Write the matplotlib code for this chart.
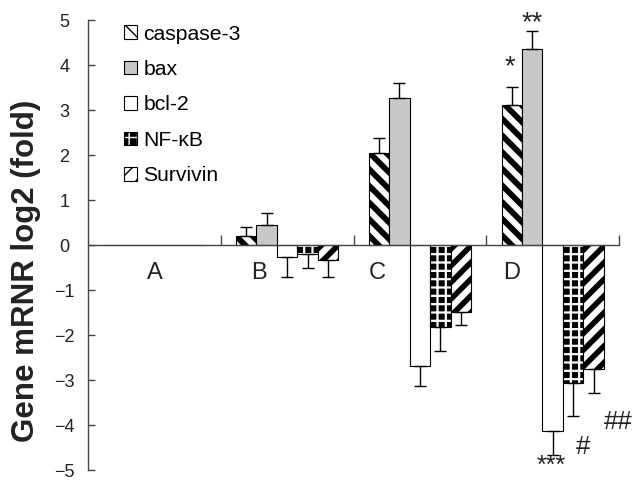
import numpy as np
import matplotlib
matplotlib.use("Agg")
import matplotlib.pyplot as plt

plt.rcParams["font.family"] = ["Liberation Sans", "DejaVu Sans"]

# log2 fold change of each gene in groups A-D, with one-sided SD
groups = ["A", "B", "C", "D"]
genes = ["caspase-3", "bax", "bcl-2", "NF-\u03baB", "Survivin"]
caspase3 = [0.0, 0.21, 2.05, 3.11]
caspase3_sd = [0.0, 0.20, 0.33, 0.41]
bax = [0.0, 0.44, 3.27, 4.35]
bax_sd = [0.0, 0.27, 0.34, 0.41]
bcl2 = [0.0, -0.26, -2.68, -4.13]
bcl2_sd = [0.0, 0.44, 0.45, 0.54]
nfkb = [0.0, -0.20, -1.83, -3.06]
nfkb_sd = [0.0, 0.30, 0.53, 0.74]
survivin = [0.0, -0.33, -1.49, -2.76]
survivin_sd = [0.0, 0.37, 0.29, 0.53]

# significance marks: (text, group, bar slot, y, vertical alignment)
marks = [("*", 3, -0.1, 3.95, "center"), ("**", 3, 1, 4.93, "center"),
         ("***", 3, 1.95, -5.07, "baseline"),
         ("#", 3, 3.5, -4.49, "center"), ("##", 3, 5.2, -3.93, "center")]

values = [caspase3, bax, bcl2, nfkb, survivin]
errors = [caspase3_sd, bax_sd, bcl2_sd, nfkb_sd, survivin_sd]

# face, hatch, hatch colour, hatch width
styles = [("white", "\\\\", "black", 4.2),
          ("#c8c8c8", "", "black", 1.0),
          ("white", "", "black", 1.0),
          ("black", "++", "white", 1.6),
          ("white", "//", "black", 4.0)]

AX_COL = "#444444"
W = 0.154

fig = plt.figure(figsize=(6.33, 4.8), dpi=100)
ax = fig.add_axes([0.139, 0.0208, 0.839, 0.9375])

x0 = np.arange(len(groups)) + 0.5
for j, (vals, sd, (fc, hatch, hc, hlw)) in enumerate(zip(values, errors, styles)):
    xs = x0 + (j - 2) * W
    with plt.rc_context({"hatch.linewidth": hlw}):
        bars = ax.bar(xs, vals, width=W, color=fc, edgecolor="black",
                      linewidth=0.8, hatch=hatch or None, label=genes[j], zorder=2)
    for b in bars:
        b._hatch_color = matplotlib.colors.to_rgba(hc)
        if hasattr(b, "set_hatch_linewidth"):
            b.set_hatch_linewidth(hlw)
    vals = np.array(vals)
    sd = np.array(sd)
    keep = sd > 0
    lower = np.where(vals < 0, sd, 0)
    upper = np.where(vals >= 0, sd, 0)
    ax.errorbar(xs[keep], vals[keep], yerr=[lower[keep], upper[keep]], fmt="none",
                ecolor="black", elinewidth=1.0, capsize=4.3, capthick=1.0, zorder=3)

for i, g in enumerate(groups):
    gx = [0.5, 1.29, 2.18, 3.19][i]
    ax.text(gx, -0.62, g, ha="center", va="center", fontsize=17, color="#222222")

for txt, gi, pos, y, va in marks:
    ax.text(x0[gi] + (pos - 2) * W, y, txt, ha="center", va=va,
            fontsize=(18 if va == "baseline" else 19.5) if "*" in txt else 18.5,
            color="#222222")

ax.set_xlim(0, 4)
ax.set_ylim(-5, 5)
ax.set_yticks(range(-5, 6))
ax.set_xticks([1, 2, 3, 4])
ax.set_xticklabels([])
for s in ("top", "right"):
    ax.spines[s].set_visible(False)
ax.spines["bottom"].set_position(("data", 0))
for s in ("left", "bottom"):
    ax.spines[s].set_color(AX_COL)
    ax.spines[s].set_linewidth(1.0)
ax.tick_params(axis="y", direction="in", length=5, width=1.0, color=AX_COL,
               labelsize=13, labelcolor="#222222", pad=17)
for lab in ax.get_yticklabels():
    lab.set_horizontalalignment("center")
ax.tick_params(axis="x", direction="in", length=7, width=1.0, color=AX_COL)

ax.set_ylabel("Gene mRNR log2 (fold)", fontsize=22.5, fontweight="bold",
              color="#222222")
ax.yaxis.set_label_coords(-0.088, 0.442)

ax.legend(loc="upper left", bbox_to_anchor=(0.068, 0.99), frameon=False,
          fontsize=15.2, handlelength=0.62, handleheight=0.62,
          handletextpad=0.3, labelspacing=0.78, borderpad=0, borderaxespad=0)

fig.savefig("out.png", dpi=100)
